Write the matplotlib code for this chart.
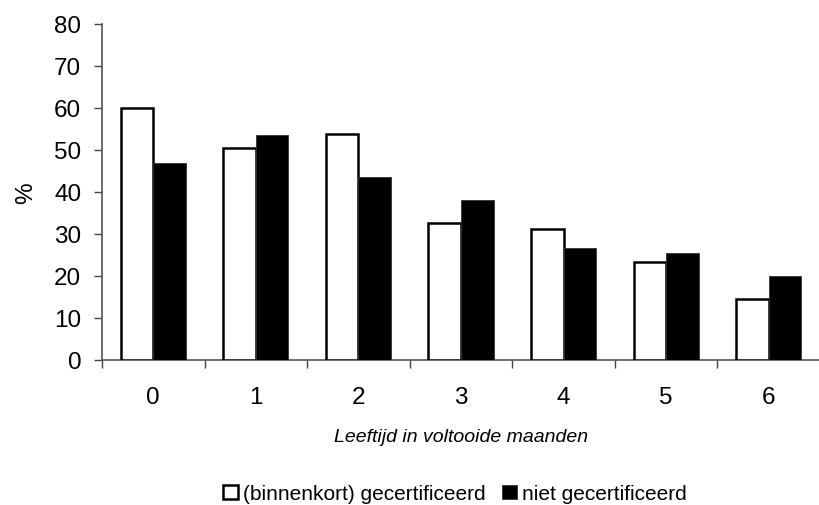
import numpy as np
import matplotlib
matplotlib.use("Agg")
import matplotlib.pyplot as plt

plt.rcParams["font.family"] = ["Liberation Sans", "DejaVu Sans"]

# leeftijd in voltooide maanden
months = ["0", "1", "2", "3", "4", "5", "6"]
certified = [60.0, 50.5, 53.9, 32.7, 31.1, 23.4, 14.5]
not_certified = [47.0, 53.6, 43.6, 38.1, 26.7, 25.5, 20.0]

fig = plt.figure(figsize=(8.2, 5.06), dpi=100)
ax = fig.add_axes([0.1244, 0.2866, 0.8756, 0.664])

x = np.arange(len(months))
w = 0.317

ax.bar(x - w / 2, certified, w, color="white", edgecolor="black",
       linewidth=1.8, label="(binnenkort) gecertificeerd", zorder=3)
ax.bar(x + w / 2, not_certified, w, color="black", edgecolor="#333333",
       linewidth=0.6, label="niet gecertificeerd", zorder=3)

ax.set_xlim(-0.5, -0.5 + 718 / 104)
ax.set_ylim(0, 80)
ax.set_yticks(range(0, 81, 10))
ax.set_xticks(x)
ax.set_xticklabels(months)
ax.set_xticks(np.arange(-0.5, len(months), 1), minor=True)
ax.tick_params(axis="x", which="major", length=0, pad=19, labelsize=17.5)
ax.tick_params(axis="x", which="minor", length=6, width=1, color="#444444", direction="out")
ax.tick_params(axis="y", length=6, width=1, color="#444444", direction="out",
               labelsize=17.5, pad=9)

for s in ["top", "right"]:
    ax.spines[s].set_visible(False)
for s in ["left", "bottom"]:
    ax.spines[s].set_color("#555555")
    ax.spines[s].set_linewidth(1.2)

ax.set_ylabel("%", fontsize=17.5, labelpad=12)
ax.set_xlabel("Leeftijd in voltooide maanden", fontsize=14, style="italic", labelpad=14)

fig.legend(loc="center", bbox_to_anchor=(0.555, 0.022), ncol=2, frameon=False,
           fontsize=15, handlelength=0.7, handleheight=0.7, handletextpad=0.25,
           columnspacing=0.8)

fig.savefig("out.png", dpi=100)
